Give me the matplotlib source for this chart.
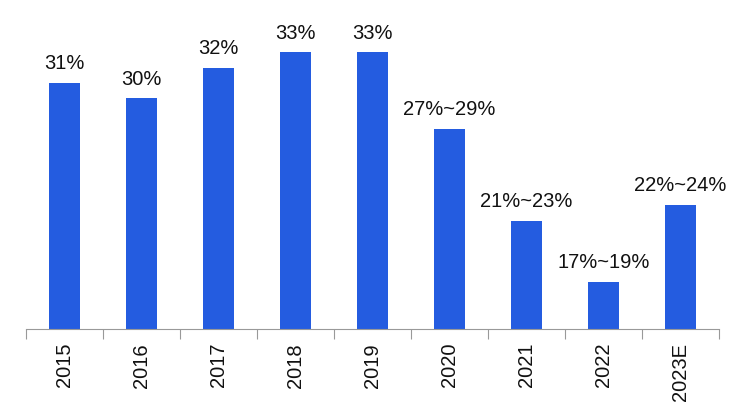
import matplotlib
matplotlib.use("Agg")
import matplotlib.pyplot as plt

categories = ["2015", "2016", "2017", "2018", "2019", "2020", "2021", "2022", "2023E"]
values = [31, 30, 32, 33, 33, 28, 22, 18, 23]
labels = ["31%", "30%", "32%", "33%", "33%", "27%~29%", "21%~23%", "17%~19%", "22%~24%"]

plt.rcParams['font.family'] = ['Liberation Sans Narrow', 'Liberation Sans', 'DejaVu Sans']

fig = plt.figure(figsize=(7.33, 4.11), dpi=100)
ax = fig.add_axes([26/733, (411-329)/411, 693/733, 329/411])

x = list(range(len(categories)))
ax.bar(x, values, width=0.4, color="#245CE0")
ax.set_ylim(14.9, 36.43)
ax.set_xlim(-0.5, len(categories) - 0.5)

for xi, v, lab in zip(x, values, labels):
    ax.text(xi, v + 0.9, lab, ha="center", va="baseline", fontsize=14.5, color="#111111")

ax.set_xticks([i - 0.5 for i in range(len(categories) + 1)], minor=False)
ax.set_xticklabels([])
ax.set_xticks(x, minor=True)
ax.set_xticklabels(categories, minor=True, rotation=90, fontsize=14.5, color="#111111")
ax.tick_params(axis="x", which="major", length=7, color="#999999", direction="out")
ax.tick_params(axis="x", which="minor", length=0, pad=10)
ax.set_yticks([])
for s in ["top", "right", "left"]:
    ax.spines[s].set_visible(False)
ax.spines["bottom"].set_color("#999999")

fig.savefig("out.png", dpi=100)
